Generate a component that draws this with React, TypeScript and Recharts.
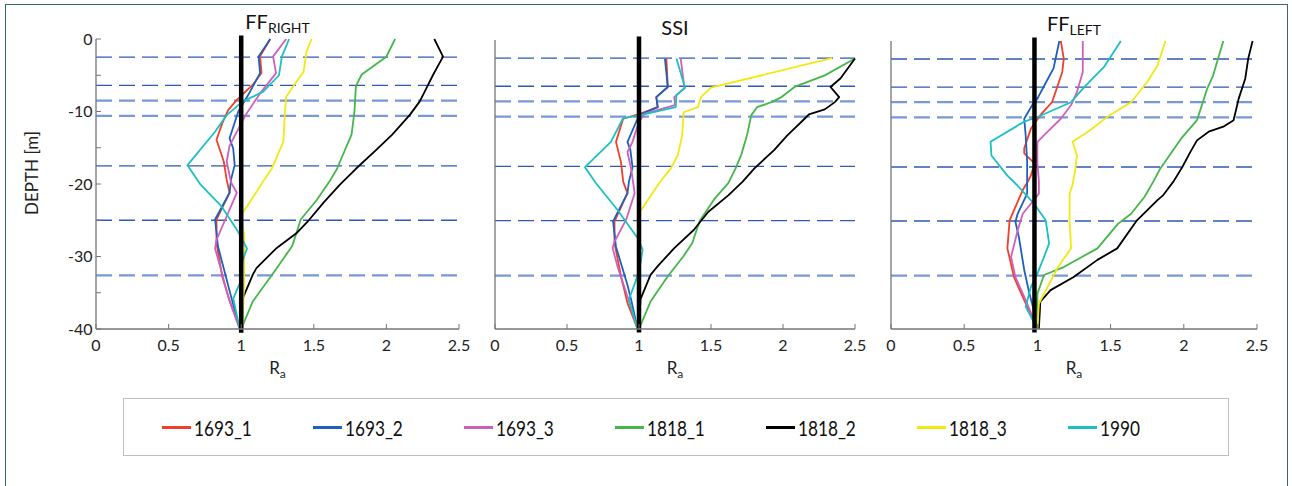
import { Line, LineChart, ReferenceLine, XAxis, YAxis } from "recharts";

// [Ra, depth in m] — depth is drawn downward as negative values
type Pt = [number, number];

const SERIES_NAMES = ["1693_1", "1693_2", "1693_3", "1818_1", "1818_2", "1818_3", "1990"];
const SERIES_COLORS = ["#f0402a", "#1f5fbf", "#cf5fbd", "#45b649", "#000000", "#f0e912", "#1cc0c0"];

const X_TICKS = [0, 0.5, 1, 1.5, 2, 2.5];
const Y_TICKS = [-40, -35, -30, -25, -20, -15, -10, -5, 0];
const LAYER_DEPTHS = [2.5, 6.4, 8.5, 10.6, 17.5, 25, 32.6];

// FF right
const ffRight1693_1: Pt[] = [[1.2, 0], [1.13, 2.4], [1.14, 4.7], [1.08, 6.3], [0.97, 8.4], [0.91, 9.8], [0.87, 11.6], [0.83, 13.9], [0.88, 16.9], [0.9, 19.4], [0.92, 21.2], [0.83, 24.9], [0.83, 28.2], [0.87, 32.8], [0.92, 36.1], [0.99, 40]];
const ffRight1693_2: Pt[] = [[1.2, 0], [1.12, 2.4], [1.13, 4.7], [1.06, 7.3], [0.98, 10], [0.92, 13.7], [0.945, 15.1], [0.955, 17.4], [0.93, 19.4], [0.92, 21.2], [0.82, 24.9], [0.84, 28.6], [0.93, 35.5], [0.99, 40]];
const ffRight1693_3: Pt[] = [[1.31, 0], [1.22, 2.4], [1.24, 4.7], [1.13, 7.5], [1.03, 10.5], [0.97, 12.8], [0.92, 14.7], [0.9, 16.9], [0.93, 19.8], [0.97, 21.2], [0.91, 24], [0.83, 27.7], [0.82, 28.9], [0.85, 31], [0.91, 35.5], [0.99, 40]];
const ffRight1818_1: Pt[] = [[2.06, 0], [2.0, 2.44], [1.83, 4.9], [1.79, 6.5], [1.78, 10], [1.76, 13.2], [1.7, 16], [1.66, 17.9], [1.61, 19.6], [1.52, 22.2], [1.41, 24.9], [1.38, 26.8], [1.35, 28.6], [1.22, 32.3], [1.08, 36.2], [1.0, 40]];
const ffRight1818_2: Pt[] = [[2.33, 0], [2.39, 2.44], [2.32, 5], [2.275, 6.8], [2.23, 8.6], [2.16, 10.5], [2.04, 13.2], [1.93, 15.3], [1.79, 17.9], [1.68, 20.1], [1.57, 22.5], [1.47, 24.9], [1.38, 26.8], [1.24, 28.9], [1.105, 31.6], [1.08, 32.5], [1.01, 35.8], [1.0, 40]];
const ffRight1818_3: Pt[] = [[1.485, 0], [1.45, 1.75], [1.43, 4.5], [1.38, 5.9], [1.31, 7.95], [1.3, 10.5], [1.29, 14.2], [1.24, 16.5], [1.21, 17.9], [1.15, 19.7], [1.01, 24], [1.0, 24.6], [1.02, 27], [1.02, 33], [1.01, 40]];
const ffRight1990: Pt[] = [[1.33, 0], [1.28, 2.44], [1.26, 5], [1.15, 7.3], [1.01, 8.6], [0.9, 10.5], [0.82, 12.8], [0.63, 17.4], [0.72, 20.1], [0.865, 23.1], [0.97, 26.3], [1.04, 28.9], [1.01, 30.5], [0.99, 33.7], [0.945, 35.8], [0.99, 40]];

// SSI
const ssi1693_1: Pt[] = [[1.19, 2.57], [1.2, 6.5], [1.12, 7.9], [1.13, 9.3], [1.01, 10.2], [0.89, 10.9], [0.84, 14.1], [0.875, 16.9], [0.89, 19.6], [0.92, 21.2], [0.83, 25.1], [0.83, 28.1], [0.875, 32.7], [0.92, 36.4], [0.99, 40]];
const ssi1693_2: Pt[] = [[1.18, 2.57], [1.2, 6.5], [1.12, 7.9], [1.13, 9.3], [1.025, 10.2], [0.99, 10.9], [0.92, 14.1], [0.94, 15.2], [0.955, 17.6], [0.93, 19.6], [0.92, 21.2], [0.82, 25.1], [0.84, 28.6], [0.92, 33.9], [0.945, 35.9], [0.99, 40]];
const ssi1693_3: Pt[] = [[1.29, 2.57], [1.315, 6.7], [1.245, 7.9], [1.25, 9.0], [1.04, 10.2], [1.0, 11.3], [0.955, 14.1], [0.92, 15.5], [0.945, 17.8], [0.97, 21.2], [0.91, 24.9], [0.83, 27.9], [0.817, 28.8], [0.85, 31.3], [0.92, 35.5], [0.99, 40]];
const ssi1818_1: Pt[] = [[2.5, 2.57], [2.29, 4.9], [2.08, 6.5], [1.99, 7.9], [1.92, 8.6], [1.82, 9.3], [1.78, 10.4], [1.75, 13.2], [1.71, 15.9], [1.67, 17.8], [1.62, 19.8], [1.52, 22.1], [1.42, 25.1], [1.37, 28.1], [1.31, 29.9], [1.2, 32.7], [1.08, 36.2], [1.0, 40]];
const ssi1818_2: Pt[] = [[2.5, 2.57], [2.4, 5.3], [2.33, 6.5], [2.39, 7.9], [2.36, 8.6], [2.29, 9.6], [2.18, 10.3], [2.15, 10.9], [2.03, 13.2], [1.94, 15.2], [1.8, 17.8], [1.72, 19.6], [1.62, 21.5], [1.48, 23.8], [1.38, 26.3], [1.245, 28.8], [1.13, 31.3], [1.08, 32.5], [1.01, 35.9], [1.0, 40]];
const ssi1818_3: Pt[] = [[2.34, 2.5], [1.5, 6.6], [1.43, 7.9], [1.41, 9.3], [1.31, 10.0], [1.3, 13.2], [1.27, 15.9], [1.22, 17.8], [1.14, 19.8], [1.01, 23.7], [0.99, 25.1], [0.995, 26.9], [1.0, 40]];
const ssi1990: Pt[] = [[1.26, 2.57], [1.32, 6.6], [1.26, 7.6], [1.255, 9.3], [1.01, 10.4], [0.89, 10.8], [0.805, 14.1], [0.625, 17.6], [0.7, 19.8], [0.85, 23.5], [0.99, 27.4], [1.025, 29], [1.01, 30.9], [0.98, 33.2], [0.93, 35.9], [0.99, 40]];

// FF left
const ffLeft1693_1: Pt[] = [[1.16, 0], [1.18, 2.45], [1.17, 4.3], [1.1, 8.5], [1.02, 10.3], [0.955, 12.2], [0.91, 14.9], [0.91, 15.6], [0.98, 17], [0.955, 18.7], [0.93, 19.7], [0.9, 20.7], [0.81, 24.9], [0.795, 28.8], [0.84, 32.8], [0.91, 36], [1.0, 40]];
const ffLeft1693_2: Pt[] = [[1.15, 0], [1.11, 3.8], [1.06, 5.7], [1.0, 8], [0.965, 8.9], [0.91, 10.8], [0.92, 13.1], [0.93, 16.8], [0.93, 21.2], [0.865, 24], [0.85, 25.1], [0.875, 27.4], [0.91, 31.8], [0.94, 34.6], [0.975, 37.4], [1.0, 40]];
const ffLeft1693_3: Pt[] = [[1.31, 0], [1.31, 4.3], [1.27, 7.1], [1.23, 8.9], [1.16, 10.8], [1.07, 12.6], [1.0, 14], [1.0, 17], [1.01, 19.4], [1.01, 21.2], [0.955, 22.6], [0.9, 24], [0.865, 26.3], [0.82, 30], [0.85, 32.8], [0.92, 36], [1.0, 40]];
const ffLeft1818_1: Pt[] = [[2.27, 0], [2.2, 4.8], [2.16, 6.6], [2.09, 11], [1.98, 13.6], [1.84, 17.7], [1.79, 19.6], [1.73, 21.7], [1.64, 24], [1.55, 25.4], [1.41, 28.8], [1.18, 31.4], [1.045, 32.5], [1.0, 35.1], [1.0, 40]];
const ffLeft1818_2: Pt[] = [[2.47, 0], [2.44, 2.45], [2.42, 5.2], [2.375, 8], [2.34, 11], [2.27, 11.9], [2.17, 12.6], [2.09, 13.8], [2.045, 15.4], [1.99, 17.5], [1.93, 19.5], [1.86, 21.4], [1.82, 22.1], [1.77, 23.1], [1.68, 24.9], [1.545, 28.8], [1.41, 30.4], [1.245, 32.8], [1.09, 34.6], [1.02, 36.2], [1.01, 40]];
const ffLeft1818_3: Pt[] = [[1.875, 0], [1.82, 3.4], [1.75, 5.7], [1.64, 8.5], [1.48, 10.5], [1.36, 12.4], [1.24, 14], [1.27, 15.9], [1.26, 17.7], [1.24, 20], [1.22, 21.2], [1.22, 24.9], [1.23, 28.8], [1.14, 31.4], [1.045, 35.1], [1.01, 36.5], [1.0, 40]];
const ffLeft1990: Pt[] = [[1.57, 0], [1.455, 3.6], [1.32, 6.4], [1.23, 8.5], [1.0, 10.55], [0.91, 11.2], [0.68, 14], [0.686, 15.9], [0.795, 18.7], [0.86, 20], [0.977, 22.6], [1.057, 24.9], [1.08, 28.1], [1.045, 30], [1.0, 32.3], [0.955, 34.2], [0.92, 36.9], [1.0, 40]];

const FONT = "Lato, 'Open Sans', sans-serif";
const BOX = "#767676";
const PAD_L = 100;
const PAD_T = 40;
const PAD_R = 12;
const PAD_B = 62;
const LIGHT_GUIDES = new Set([2, 3, 6]);

const panels = [
  {
    title: "FF", sub: "RIGHT", refRa: 1, depthLabel: true,
    box: { x: 96, y: 39, w: 363, h: 290 },
    series: [ffRight1693_1, ffRight1693_2, ffRight1693_3, ffRight1818_1, ffRight1818_2, ffRight1818_3, ffRight1990],
  },
  {
    title: "SSI", sub: "", refRa: 1, depthLabel: false,
    box: { x: 495, y: 40, w: 360, h: 289 },
    series: [ssi1693_1, ssi1693_2, ssi1693_3, ssi1818_1, ssi1818_2, ssi1818_3, ssi1990],
  },
  {
    title: "FF", sub: "LEFT", refRa: 0.98, depthLabel: false,
    box: { x: 891, y: 41, w: 366, h: 288 },
    series: [ffLeft1693_1, ffLeft1693_2, ffLeft1693_3, ffLeft1818_1, ffLeft1818_2, ffLeft1818_3, ffLeft1990],
  },
];

function Profile({ panel }: { panel: (typeof panels)[number] }) {
  const { box } = panel;
  const width = box.w + PAD_L + PAD_R;
  const height = box.h + PAD_T + PAD_B;
  const midX = PAD_L + box.w / 2;

  // title above the box and R_a below it, both hung on the bottom axis label
  const axisTexts = () => (
    <g>
      <text x={midX} y={panel.sub ? PAD_T - 10 : PAD_T - 5} textAnchor="middle" fontFamily={FONT} fill="#111">
        <tspan fontSize={20}>{panel.title}</tspan>
        {panel.sub && <tspan fontSize={14} dy={4}>{panel.sub}</tspan>}
      </text>
      <text x={midX} y={PAD_T + box.h + 45} textAnchor="middle" fontFamily={FONT} fill="#222">
        <tspan fontSize={17}>R</tspan>
        <tspan fontSize={12} dy={4}>a</tspan>
      </text>
    </g>
  );
  const depthLabel = () => {
    const cx = 38 - box.x + PAD_L;
    const cy = 173 - box.y + PAD_T;
    return (
      <text x={cx} y={cy} transform={`rotate(-90, ${cx}, ${cy})`} textAnchor="middle" fontFamily={FONT} fontSize={17} fill="#222">
        DEPTH [m]
      </text>
    );
  };

  return (
    <div style={{ position: "absolute", left: box.x - PAD_L, top: box.y - PAD_T }}>
      <LineChart width={width} height={height} margin={{ top: PAD_T, right: PAD_R, bottom: 0, left: 30 }}>
        <XAxis
          type="number"
          dataKey="r"
          domain={[0, 2.5]}
          ticks={X_TICKS}
          interval={0}
          height={PAD_B}
          tickSize={-5}
          tickMargin={16}
          axisLine={{ stroke: BOX, strokeWidth: 1.3 }}
          tickLine={{ stroke: BOX }}
          tick={{ fill: "#222", fontSize: 16, fontFamily: FONT }}
          label={axisTexts}
        />
        <XAxis
          xAxisId="top"
          orientation="top"
          type="number"
          domain={[0, 2.5]}
          allowDataOverflow
          ticks={X_TICKS}
          interval={0}
          height={0}
          tickSize={-5}
          tick={false}
          axisLine={{ stroke: BOX, strokeWidth: 1.3 }}
          tickLine={{ stroke: BOX }}
        />
        <YAxis
          type="number"
          dataKey="d"
          domain={[-40, 0]}
          ticks={Y_TICKS}
          interval={0}
          width={70}
          tickSize={-5}
          tickMargin={8.5}
          axisLine={{ stroke: BOX, strokeWidth: 1.3 }}
          tickLine={{ stroke: BOX }}
          tick={panel.depthLabel ? { fill: "#222", fontSize: 16, fontFamily: FONT } : false}
          tickFormatter={(v: number) => (v % 10 === 0 ? String(v) : "")}
          label={panel.depthLabel ? depthLabel : undefined}
        />
        <YAxis
          yAxisId="right"
          orientation="right"
          type="number"
          domain={[-40, 0]}
          allowDataOverflow
          ticks={Y_TICKS}
          interval={0}
          width={0}
          tickSize={-5}
          tick={false}
          axisLine={{ stroke: BOX, strokeWidth: 1.3 }}
          tickLine={{ stroke: BOX }}
        />
        {LAYER_DEPTHS.map((d, i) => (
          <ReferenceLine
            key={d}
            y={-d}
            stroke={LIGHT_GUIDES.has(i) ? "#7898d6" : "#2f59b3"}
            strokeWidth={LIGHT_GUIDES.has(i) ? 2.2 : 1.3}
            strokeDasharray="16 7"
          />
        ))}
        {panel.series.map((pts, i) => (
          <Line
            key={SERIES_NAMES[i]}
            name={SERIES_NAMES[i]}
            data={pts.map(([r, d]) => ({ r, d: -d }))}
            dataKey="d"
            type="linear"
            stroke={SERIES_COLORS[i]}
            strokeWidth={1.8}
            strokeLinejoin="round"
            dot={false}
            activeDot={false}
            isAnimationActive={false}
          />
        ))}
        <ReferenceLine
          segment={[{ x: panel.refRa, y: 0.5 }, { x: panel.refRa, y: -40.5 }]}
          ifOverflow="visible"
          stroke="#000"
          strokeWidth={4.5}
        />
      </LineChart>
    </div>
  );
}

export default function App() {
  return (
    <div style={{ position: "absolute", left: 0, top: 0, width: 1292, height: 486, overflow: "hidden", background: "#fff" }}>
      <div style={{ position: "absolute", left: 5, top: 4, width: 1283, height: 520, border: "1.5px solid #3a6673", boxSizing: "border-box" }} />
      {panels.map((p) => (
        <Profile key={p.title + p.sub} panel={p} />
      ))}
      <div
        style={{
          position: "absolute", left: 123, top: 398, width: 1106, height: 58,
          border: "1px solid #c0c0c0", boxSizing: "border-box",
          display: "flex", alignItems: "center", paddingLeft: 38,
        }}
      >
        {SERIES_NAMES.map((n, i) => (
          <div key={n} style={{ display: "flex", alignItems: "center", width: 151 }}>
            <span style={{ display: "inline-block", width: 29, height: 3, background: SERIES_COLORS[i], marginRight: 3 }} />
            <span
              style={{
                fontFamily: FONT, fontSize: 21, color: "#111",
                display: "inline-block", transform: "scaleX(0.82)", transformOrigin: "left center",
              }}
            >
              {n}
            </span>
          </div>
        ))}
      </div>
    </div>
  );
}
